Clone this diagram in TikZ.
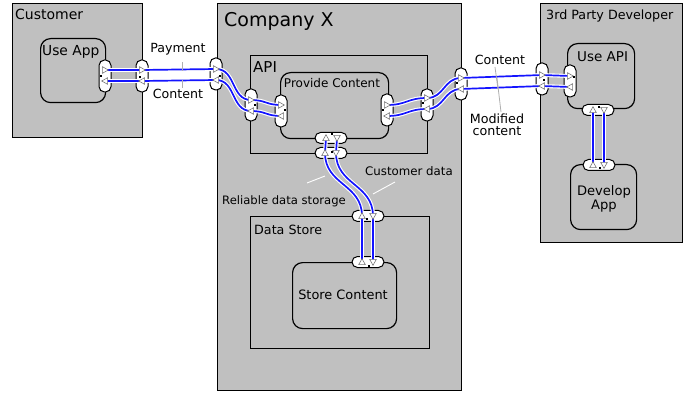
\documentclass[tikz,border=0pt]{standalone}
\usepackage{fontspec}
\setmainfont{DejaVu Sans}
\definecolor{boxgray}{RGB}{192,192,192}
\definecolor{laneblue}{RGB}{20,20,255}
\definecolor{trigray}{RGB}{120,120,120}
\definecolor{leadgray}{RGB}{175,175,175}
\newcommand{\fsz}[1]{\fontsize{#1}{#1}\selectfont}
\begin{document}
\begin{tikzpicture}[x=1pt,y=-1pt,
  box/.style={draw=black, line width=1.2pt, fill=boxgray, inner sep=0pt, anchor=north west},
  act/.style={box, rounded corners=10pt},
  vport/.style={draw=black, line width=1pt, fill=white, rounded corners=5.5pt,
    minimum width=12pt, minimum height=32pt, inner sep=0pt},
  hport/.style={draw=black, line width=1pt, fill=white, rounded corners=5.5pt,
    minimum width=32pt, minimum height=11pt, inner sep=0pt},
  lane/.style={draw=white, double=laneblue, double distance=1.7pt, line width=1.1pt},
  lead/.style={draw=leadgray, line width=0.8pt},
  whitelead/.style={draw=white, line width=0.9pt},
  dot/.style={fill=black, minimum size=2.6pt, inner sep=0pt},
  txt/.style={inner sep=0pt, align=center},
  tri/.pic={\draw[fill=white, draw=trigray, line width=0.6pt] (-2.6,-3.3) -- (3.3,0) -- (-2.6,3.3) -- cycle;}
]
\useasboundingbox (0,0) rectangle (686,393);

% ---- containers ----
\node[box, minimum width=130pt, minimum height=134pt] (customer) at (12,3) {};
\node[box, minimum width=244pt, minimum height=387pt] (company) at (217,3) {};
\node[box, minimum width=177pt, minimum height=98pt] (api) at (250,55) {};
\node[box, minimum width=179pt, minimum height=132pt] (datastore) at (250,216) {};
\node[box, minimum width=142pt, minimum height=239pt] (thirdparty) at (540,3) {};

% ---- activities ----
\node[act, minimum width=65pt, minimum height=64pt] (useapp) at (40,38) {};
\node[act, minimum width=108pt, minimum height=66pt] (provide) at (280,72) {};
\node[act, minimum width=104pt, minimum height=66pt] (store) at (292,262) {};
\node[act, minimum width=67pt, minimum height=65pt] (useapi) at (567,43) {};
\node[act, minimum width=66pt, minimum height=65pt] (devapp) at (570,164) {};

% ---- titles ----
\node[txt, anchor=west, font=\fsz{14}] (tcustomer) at (15,14) {Customer};
\node[txt, anchor=west, font=\fsz{19}] (tcompany) at (224,21) {Company X};
\node[txt, anchor=west, font=\fsz{15}] (tapi) at (253,67) {API};
\node[txt, anchor=west, font=\fsz{12.7}] (tdatastore) at (254,230) {Data Store};
\node[txt, anchor=west, font=\fsz{12.7}] (tthird) at (546,16) {3rd Party Developer};
\node[txt, anchor=west, font=\fsz{13.8}] (tuseapp) at (42,52) {Use App};
\node[txt, font=\fsz{12}] (tprovide) at (332,83) {Provide Content};
\node[txt, font=\fsz{12.9}] (tstore) at (343,295) {Store Content};
\node[txt, anchor=west, font=\fsz{13.5}] (tuseapi) at (577,57) {Use API};
\node[txt, font=\fsz{13.1}, align=center] (tdevapp) at (604,199) {Develop\\[1pt]App};

% ---- ports ----
\node[vport] (pUseApp) at (105,76) {};
\node[vport] (pCust) at (142,76) {};
\node[vport] (pCXl) at (216,74) {};
\node[vport] (pAPIl) at (251,105) {};
\node[vport] (pPCl) at (281,111) {};
\node[vport] (pPCr) at (387,110) {};
\node[vport] (pAPIr) at (427,105) {};
\node[vport] (pCXr) at (461,84) {};
\node[vport] (p3P) at (542,79) {};
\node[vport] (pUseAPIl) at (570,81) {};
\node[hport] (pPCb) at (331,138) {};
\node[hport] (pAPIb) at (331,153) {};
\node[hport] (pDSt) at (368,216) {};
\node[hport] (pSCt) at (368,262) {};
\node[hport] (pUseAPIb) at (598,110) {};
\node[hport] (pDevt) at (599,165) {};

% ---- lane points on the ports ----
\coordinate (ua1) at (105,70);  \coordinate (ua2) at (105,81);
\coordinate (cu1) at (142,70);  \coordinate (cu2) at (142,81);
\coordinate (cxl1) at (216,69); \coordinate (cxl2) at (216,80);
\coordinate (apl1) at (251,100);\coordinate (apl2) at (251,111);
\coordinate (pcl1) at (281,105);\coordinate (pcl2) at (281,116);
\coordinate (pcr1) at (387,105);\coordinate (pcr2) at (387,116);
\coordinate (apr1) at (427,98); \coordinate (apr2) at (427,109);
\coordinate (cxr1) at (461,78); \coordinate (cxr2) at (461,89);
\coordinate (tp1) at (542,75);  \coordinate (tp2) at (542,86);
\coordinate (uapi1) at (570,76);\coordinate (uapi2) at (570,87);
\coordinate (pcb1) at (326,138);\coordinate (pcb2) at (337,138);
\coordinate (apb1) at (325,153);\coordinate (apb2) at (336,153);
\coordinate (dst1) at (362,216);\coordinate (dst2) at (373,216);
\coordinate (sct1) at (362,262);\coordinate (sct2) at (373,262);
\coordinate (uab1) at (593,110);\coordinate (uab2) at (604,110);
\coordinate (dvt1) at (593,165);\coordinate (dvt2) at (604,165);

% ---- flows ----
% Payment (to the right) and Content (to the left)
\draw[lane] (ua1) -- (cu1) -- (cxl1) .. controls +(20,0) and +(-20,0) .. (apl1)
  .. controls +(15,0) and +(-15,0) .. (pcl1);
\draw[lane] (ua2) -- (cu2) -- (cxl2) .. controls +(20,0) and +(-20,0) .. (apl2)
  .. controls +(15,0) and +(-15,0) .. (pcl2);
% Content (to the right) and Modified content (to the left)
\draw[lane] (pcr1) .. controls +(20,0) and +(-20,0) .. (apr1)
  .. controls +(17,0) and +(-17,0) .. (cxr1) -- (tp1) -- (uapi1);
\draw[lane] (pcr2) .. controls +(20,0) and +(-20,0) .. (apr2)
  .. controls +(17,0) and +(-17,0) .. (cxr2) -- (tp2) -- (uapi2);
% Reliable data storage (up) and Customer data (down)
\draw[lane] (pcb1) -- (apb1) .. controls +(0,32) and +(0,-32) .. (dst1) -- (sct1);
\draw[lane] (pcb2) -- (apb2) .. controls +(0,32) and +(0,-32) .. (dst2) -- (sct2);
% Use API <-> Develop App
\draw[lane] (uab1) -- (dvt1);
\draw[lane] (uab2) -- (dvt2);

% ---- direction marks ----
\foreach \c in {ua1,cu1,cxl1,apl1,pcl1,pcr1,apr1,cxr1,tp1,uapi1} \pic at (\c) {tri};
\foreach \c in {ua2,cu2,cxl2,apl2,pcl2,pcr2,apr2,cxr2,tp2,uapi2} \pic[rotate=180] at (\c) {tri};
\foreach \c in {pcb1,apb1,dst1,sct1,uab1,dvt1} \pic[rotate=90] at (\c) {tri};
\foreach \c in {pcb2,apb2,dst2,sct2,uab2,dvt2} \pic[rotate=-90] at (\c) {tri};

% ---- port anchors ----
\node[dot] (dUseApp) at (101,76) {};
\node[dot] (dCust) at (140,77) {};
\node[dot] (dCXl) at (220,76) {};
\node[dot] (dAPIl) at (255,105) {};
\node[dot] (dPCl) at (285,110) {};
\node[dot] (dPCr) at (383,110) {};
\node[dot] (dAPIr) at (423,103) {};
\node[dot] (dCXr) at (457,83) {};
\node[dot] (d3P) at (544,80) {};
\node[dot] (dUseAPIl) at (574,77) {};
\node[dot] (dPCb) at (332,134) {};
\node[dot] (dAPIb) at (332,152) {};
\node[dot] (dDSt) at (367,219) {};
\node[dot] (dSCt) at (369,266) {};
\node[dot] (dUseAPIb) at (599,107) {};
\node[dot] (dDevt) at (600,168) {};

% ---- flow labels ----
\node[txt, font=\fsz{12.6}] (lpay) at (178,49) {Payment};
\node[txt, font=\fsz{12.6}] (lcontent1) at (178,94) {Content};
\node[txt, font=\fsz{12.6}] (lcontent2) at (500,60) {Content};
\node[txt, font=\fsz{12.7}] (lmod) at (497,125) {Modified\\[-1pt]content};
\node[txt, font=\fsz{11.8}] (lcustdata) at (409,171) {Customer data};
\node[txt, font=\fsz{11.6}] (lreliable) at (284,201) {Reliable data storage};

\coordinate (kpay1) at (182,62);  \coordinate (kpay2) at (182,71);
\coordinate (kcon1) at (182,80);  \coordinate (kcon2) at (182,88);
\coordinate (kc2a) at (495,67);   \coordinate (kc2b) at (498,89);
\coordinate (kmda) at (497,78);   \coordinate (kmdb) at (501,112);
\coordinate (kcda) at (395,182);  \coordinate (kcdb) at (373,194);
\coordinate (krla) at (307,183);  \coordinate (krlb) at (325,176);
\draw[lead] (kpay1) -- (kpay2);
\draw[lead] (kcon1) -- (kcon2);
\draw[lead] (kc2a) -- (kc2b);
\draw[lead] (kmda) -- (kmdb);
\draw[whitelead] (kcda) -- (kcdb);
\draw[whitelead] (krla) -- (krlb);
\end{tikzpicture}
\end{document}
